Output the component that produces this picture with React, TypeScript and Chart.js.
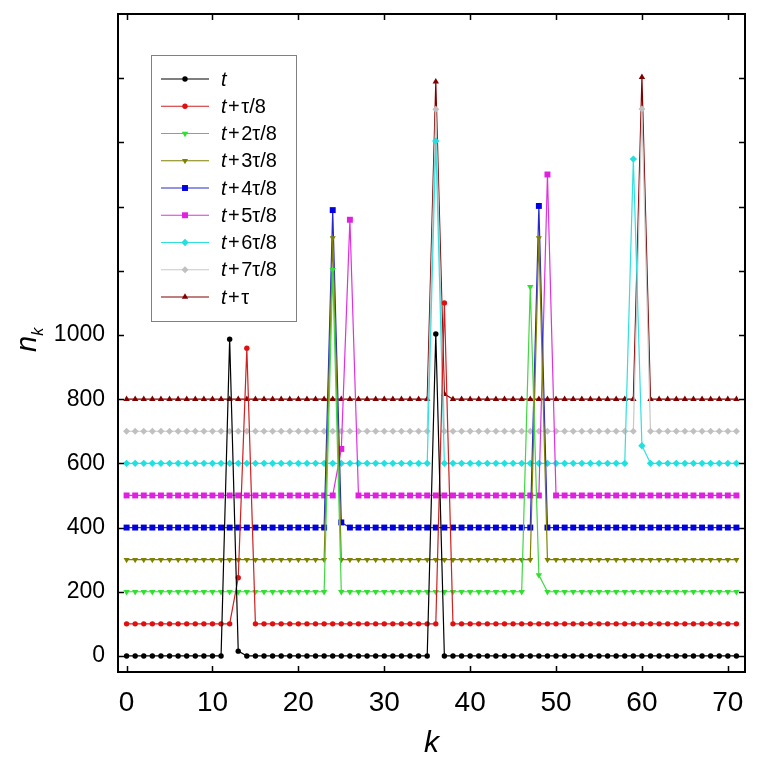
import { useEffect, useRef } from "react";
import { Chart, registerables } from "chart.js";

Chart.register(...registerables);

// ---------------- data ----------------
const K_VALUES = [
  0, 1, 2, 3, 4, 5, 6, 7, 8, 9, 10, 11,
  12, 13, 14, 15, 16, 17, 18, 19, 20, 21, 22, 23,
  24, 25, 26, 27, 28, 29, 30, 31, 32, 33, 34, 35,
  36, 37, 38, 39, 40, 41, 42, 43, 44, 45, 46, 47,
  48, 49, 50, 51, 52, 53, 54, 55, 56, 57, 58, 59,
  60, 61, 62, 63, 64, 65, 66, 67, 68, 69, 70, 71,
];

const S_T = [
  0, 0, 0, 0, 0, 0, 0, 0, 0, 0, 0, 0,
  987, 15, 0, 0, 0, 0, 0, 0, 0, 0, 0, 0,
  0, 0, 0, 0, 0, 0, 0, 0, 0, 0, 0, 0,
  1003, 0, 0, 0, 0, 0, 0, 0, 0, 0, 0, 0,
  0, 0, 0, 0, 0, 0, 0, 0, 0, 0, 0, 0,
  0, 0, 0, 0, 0, 0, 0, 0, 0, 0, 0, 0,
];
const S_T1 = [
  100, 100, 100, 100, 100, 100, 100, 100, 100, 100, 100, 100,
  100, 244, 959, 100, 100, 100, 100, 100, 100, 100, 100, 100,
  100, 100, 100, 100, 100, 100, 100, 100, 100, 100, 100, 100,
  100, 1100, 100, 100, 100, 100, 100, 100, 100, 100, 100, 100,
  100, 100, 100, 100, 100, 100, 100, 100, 100, 100, 100, 100,
  100, 100, 100, 100, 100, 100, 100, 100, 100, 100, 100, 100,
];
const S_T2 = [
  200, 200, 200, 200, 200, 200, 200, 200, 200, 200, 200, 200,
  200, 200, 200, 200, 200, 200, 200, 200, 200, 200, 200, 200,
  1203, 200, 200, 200, 200, 200, 200, 200, 200, 200, 200, 200,
  200, 200, 200, 200, 200, 200, 200, 200, 200, 200, 200, 1150,
  252, 200, 200, 200, 200, 200, 200, 200, 200, 200, 200, 200,
  200, 200, 200, 200, 200, 200, 200, 200, 200, 200, 200, 200,
];
const S_T3 = [
  300, 300, 300, 300, 300, 300, 300, 300, 300, 300, 300, 300,
  300, 300, 300, 300, 300, 300, 300, 300, 300, 300, 300, 300,
  1302, 300, 300, 300, 300, 300, 300, 300, 300, 300, 300, 300,
  300, 300, 300, 300, 300, 300, 300, 300, 300, 300, 300, 300,
  1302, 300, 300, 300, 300, 300, 300, 300, 300, 300, 300, 300,
  300, 300, 300, 300, 300, 300, 300, 300, 300, 300, 300, 300,
];
const S_T4 = [
  400, 400, 400, 400, 400, 400, 400, 400, 400, 400, 400, 400,
  400, 400, 400, 400, 400, 400, 400, 400, 400, 400, 400, 400,
  1389, 416, 400, 400, 400, 400, 400, 400, 400, 400, 400, 400,
  400, 400, 400, 400, 400, 400, 400, 400, 400, 400, 400, 400,
  1402, 400, 400, 400, 400, 400, 400, 400, 400, 400, 400, 400,
  400, 400, 400, 400, 400, 400, 400, 400, 400, 400, 400, 400,
];
const S_T5 = [
  500, 500, 500, 500, 500, 500, 500, 500, 500, 500, 500, 500,
  500, 500, 500, 500, 500, 500, 500, 500, 500, 500, 500, 500,
  500, 645, 1359, 500, 500, 500, 500, 500, 500, 500, 500, 500,
  500, 500, 500, 500, 500, 500, 500, 500, 500, 500, 500, 500,
  500, 1500, 500, 500, 500, 500, 500, 500, 500, 500, 500, 500,
  500, 500, 500, 500, 500, 500, 500, 500, 500, 500, 500, 500,
];
const S_T6 = [
  600, 600, 600, 600, 600, 600, 600, 600, 600, 600, 600, 600,
  600, 600, 600, 600, 600, 600, 600, 600, 600, 600, 600, 600,
  600, 600, 600, 600, 600, 600, 600, 600, 600, 600, 600, 600,
  1604, 600, 600, 600, 600, 600, 600, 600, 600, 600, 600, 600,
  600, 600, 600, 600, 600, 600, 600, 600, 600, 600, 600, 1548,
  655, 600, 600, 600, 600, 600, 600, 600, 600, 600, 600, 600,
];
const S_T7 = [
  700, 700, 700, 700, 700, 700, 700, 700, 700, 700, 700, 700,
  700, 700, 700, 700, 700, 700, 700, 700, 700, 700, 700, 700,
  700, 700, 700, 700, 700, 700, 700, 700, 700, 700, 700, 700,
  1703, 700, 700, 700, 700, 700, 700, 700, 700, 700, 700, 700,
  700, 700, 700, 700, 700, 700, 700, 700, 700, 700, 700, 700,
  1704, 700, 700, 700, 700, 700, 700, 700, 700, 700, 700, 700,
];
const S_T8 = [
  800, 800, 800, 800, 800, 800, 800, 800, 800, 800, 800, 800,
  800, 800, 800, 800, 800, 800, 800, 800, 800, 800, 800, 800,
  800, 800, 800, 800, 800, 800, 800, 800, 800, 800, 800, 800,
  1789, 816, 800, 800, 800, 800, 800, 800, 800, 800, 800, 800,
  800, 800, 800, 800, 800, 800, 800, 800, 800, 800, 800, 800,
  1803, 800, 800, 800, 800, 800, 800, 800, 800, 800, 800, 800,
];

const SERIES_VALUES = [S_T, S_T1, S_T2, S_T3, S_T4, S_T5, S_T6, S_T7, S_T8];
const SERIES_SUFFIX = ["", "+τ/8", "+2τ/8", "+3τ/8", "+4τ/8", "+5τ/8", "+6τ/8", "+7τ/8", "+τ"];

const X_TICKS = [0, 10, 20, 30, 40, 50, 60, 70];
const Y_TICKS = [0, 200, 400, 600, 800, 1000, 1200, 1400, 1600, 1800];
const Y_LABEL_MAX = 1000;

// ---------------- styles ----------------
const COLORS = ["#000000", "#e01010", "#30e030", "#808000", "#0000e0", "#e020e0", "#20e0e0", "#c0c0c0", "#800000"];
const LINE_COLORS = ["#000000", "#d02020", "#40d840", "#808000", "#2828c8", "#e030e0", "#30e0e0", "#c8c8c8", "#800000"];
const POINT_STYLES = ["circle", "circle", "triangle", "triangle", "rect", "rect", "rectRot", "rectRot", "triangle"];
const POINT_ROT = [0, 0, 180, 180, 0, 0, 0, 0, 0];
const POINT_R = [2.7, 2.7, 3.7, 3.5, 4.2, 4.2, 3.7, 3.5, 3.7];

const FONT = "'Liberation Sans', Arial, Helvetica, sans-serif";

function drawMarker(ctx: CanvasRenderingContext2D, style: string, x: number, y: number, r: number, rotDeg: number, color: string) {
  ctx.save();
  ctx.fillStyle = color;
  ctx.beginPath();
  if (style === "circle") {
    ctx.arc(x, y, r, 0, Math.PI * 2);
  } else if (style === "rect") {
    const s = r * Math.SQRT1_2;
    ctx.rect(x - s, y - s, 2 * s, 2 * s);
  } else if (style === "rectRot") {
    ctx.moveTo(x - r, y);
    ctx.lineTo(x, y - r);
    ctx.lineTo(x + r, y);
    ctx.lineTo(x, y + r);
    ctx.closePath();
  } else if (style === "triangle") {
    let rad = (rotDeg * Math.PI) / 180;
    ctx.moveTo(x + Math.sin(rad) * r, y - Math.cos(rad) * r);
    rad += (2 * Math.PI) / 3;
    ctx.lineTo(x + Math.sin(rad) * r, y - Math.cos(rad) * r);
    rad += (2 * Math.PI) / 3;
    ctx.lineTo(x + Math.sin(rad) * r, y - Math.cos(rad) * r);
    ctx.closePath();
  }
  ctx.fill();
  ctx.restore();
}

const decorPlugin = {
  id: "decor",
  afterDatasetsDraw(chart: any) {
    const ctx: CanvasRenderingContext2D = chart.ctx;
    const { left, right, top, bottom } = chart.chartArea;
    const xs = chart.scales.x;
    const ys = chart.scales.y;
    ctx.save();
    ctx.strokeStyle = "#000";
    ctx.lineWidth = 2;
    ctx.strokeRect(left, top, right - left, bottom - top);
    ctx.lineWidth = 1.5;
    const TL = 6;
    ctx.beginPath();
    for (const v of X_TICKS) {
      const px = Math.round(xs.getPixelForValue(v)) + 0.5;
      ctx.moveTo(px, bottom);
      ctx.lineTo(px, bottom - TL);
      ctx.moveTo(px, top);
      ctx.lineTo(px, top + TL);
    }
    for (const v of Y_TICKS) {
      const py = Math.round(ys.getPixelForValue(v)) + 0.5;
      ctx.moveTo(left, py);
      ctx.lineTo(left + TL, py);
      ctx.moveTo(right, py);
      ctx.lineTo(right - TL, py);
    }
    ctx.stroke();
    ctx.restore();
  },
  afterDraw(chart: any) {
    const ctx: CanvasRenderingContext2D = chart.ctx;
    const { left, right } = chart.chartArea;
    ctx.save();
    // legend box
    ctx.fillStyle = "#ffffff";
    ctx.fillRect(151, 55, 145, 267);
    ctx.strokeStyle = "#808080";
    ctx.lineWidth = 1;
    ctx.strokeRect(151.5, 55.5, 145, 266);
    const rowY0 = 79;
    const rowStep = 27.25;
    for (let i = 0; i < SERIES_VALUES.length; i++) {
      const y = rowY0 + rowStep * i;
      ctx.strokeStyle = LINE_COLORS[i];
      ctx.lineWidth = 1.2;
      ctx.beginPath();
      ctx.moveTo(161, y);
      ctx.lineTo(209, y);
      ctx.stroke();
      drawMarker(ctx, POINT_STYLES[i], 185, y, POINT_R[i], POINT_ROT[i], COLORS[i]);
      ctx.fillStyle = "#000";
      ctx.textBaseline = "middle";
      ctx.textAlign = "left";
      let x = 221;
      ctx.font = `italic 20px ${FONT}`;
      ctx.fillText("t", x, y + 1);
      x += ctx.measureText("t").width + 1.5;
      const suf = SERIES_SUFFIX[i];
      if (suf) {
        ctx.font = `20px ${FONT}`;
        ctx.fillText("+", x, y + 1);
        x += ctx.measureText("+").width + 1.5;
        ctx.fillText(suf.slice(1), x, y + 1);
      }
    }
    // x title
    ctx.fillStyle = "#000";
    ctx.font = `italic 30px ${FONT}`;
    ctx.textAlign = "center";
    ctx.textBaseline = "alphabetic";
    ctx.fillText("k", (left + right) / 2, 752);
    // y title n_k (rotated)
    ctx.translate(36, 352);
    ctx.rotate(-Math.PI / 2);
    ctx.textAlign = "left";
    ctx.font = `italic 29px ${FONT}`;
    ctx.fillText("n", 0, 0);
    const nw = ctx.measureText("n").width;
    ctx.font = `italic 16px ${FONT}`;
    ctx.fillText("k", nw, 7);
    ctx.restore();
  },
};

export default function App() {
  const canvasRef = useRef<HTMLCanvasElement | null>(null);

  useEffect(() => {
    const canvas = canvasRef.current;
    if (!canvas) return;
    Chart.defaults.font.family = FONT;
    const datasets = SERIES_VALUES.map((vals, i) => ({
      label: "t" + SERIES_SUFFIX[i],
      data: vals.map((v, j) => ({ x: K_VALUES[j], y: v })),
      borderColor: LINE_COLORS[i],
      backgroundColor: COLORS[i],
      borderWidth: 1.2,
      pointStyle: POINT_STYLES[i] as any,
      pointRotation: POINT_ROT[i],
      pointRadius: POINT_R[i],
      pointBorderWidth: 0,
      pointBorderColor: COLORS[i],
      pointBackgroundColor: COLORS[i],
      tension: 0,
      fill: false,
    }));
    const chart = new Chart(canvas, {
      type: "line",
      data: { datasets },
      options: {
        animation: false,
        responsive: false,
        devicePixelRatio: 1,
        layout: { padding: { top: 14, right: 23, left: 0, bottom: 0 } },
        plugins: { legend: { display: false }, tooltip: { enabled: false } },
        scales: {
          x: {
            type: "linear",
            min: -1,
            max: 72,
            grid: { display: false, drawTicks: false },
            border: { display: false },
            afterBuildTicks: (s: any) => {
              s.ticks = X_TICKS.map((v) => ({ value: v }));
            },
            afterFit: (s: any) => {
              s.height = 96;
              s.paddingLeft = 0;
              s.paddingRight = 0;
            },
            ticks: {
              color: "#000",
              font: { size: 28, family: FONT },
              padding: 14,
              maxRotation: 0,
              autoSkip: false,
              callback: (v: any) => String(v),
            },
          },
          y: {
            type: "linear",
            min: -50,
            max: 2000,
            grid: { display: false, drawTicks: false },
            border: { display: false },
            afterBuildTicks: (s: any) => {
              s.ticks = Y_TICKS.map((v) => ({ value: v }));
            },
            afterFit: (s: any) => {
              s.width = 118;
              s.paddingTop = 0;
              s.paddingBottom = 0;
            },
            ticks: {
              color: "#000",
              font: { size: 23, family: FONT },
              padding: 13,
              autoSkip: false,
              callback: (v: any) => (Number(v) <= Y_LABEL_MAX ? String(v) : ""),
            },
          },
        },
      },
      plugins: [decorPlugin],
    });
    return () => chart.destroy();
  }, []);

  return (
    <div style={{ position: "absolute", left: 0, top: 0, width: 768, height: 768, background: "#fff" }}>
      <canvas ref={canvasRef} width={768} height={768} style={{ width: 768, height: 768, display: "block" }} />
    </div>
  );
}
